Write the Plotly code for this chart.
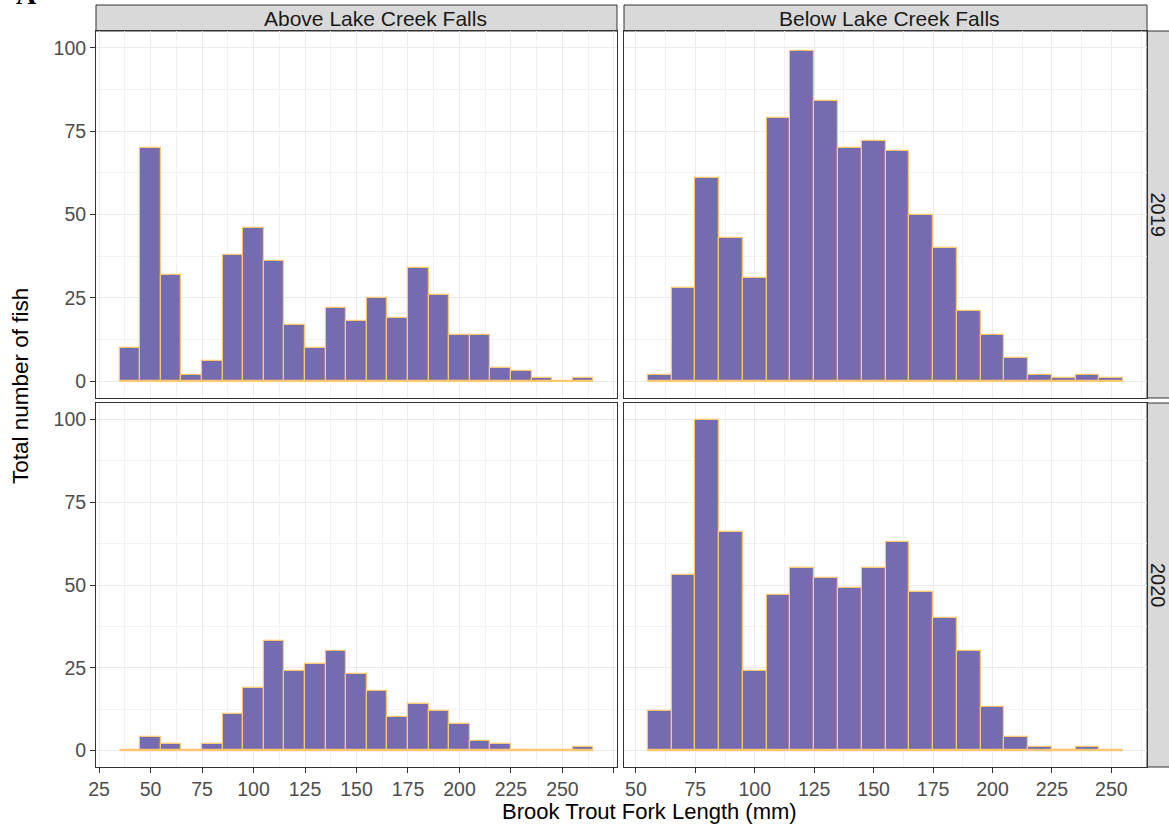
import plotly.graph_objects as go

# ---------------- data ----------------
above_bins = [40, 50, 60, 70, 80, 90, 100, 110, 120, 130, 140, 150, 160, 170,
              180, 190, 200, 210, 220, 230, 240, 250, 260]
above_2019 = [10, 70, 32, 2, 6, 38, 46, 36, 17, 10, 22, 18, 25, 19, 34, 26, 14,
              14, 4, 3, 1, 0, 1]
above_2020 = [0, 4, 2, 0, 2, 11, 19, 33, 24, 26, 30, 23, 18, 10, 14, 12, 8, 3,
              2, 0, 0, 0, 1]

below_bins = [60, 70, 80, 90, 100, 110, 120, 130, 140, 150, 160, 170, 180, 190,
              200, 210, 220, 230, 240, 250]
below_2019 = [2, 28, 61, 43, 31, 79, 99, 84, 70, 72, 69, 50, 40, 21, 14, 7, 2,
              1, 2, 1]
below_2020 = [12, 53, 100, 66, 24, 47, 55, 52, 49, 55, 63, 48, 40, 30, 13, 4, 1,
              0, 1, 0]

BIN_WIDTH = 10
site_labels = ["Above Lake Creek Falls", "Below Lake Creek Falls"]
year_labels = ["2019", "2020"]
y_ticks = [0, 25, 50, 75, 100]
x_ticks_above = [25, 50, 75, 100, 125, 150, 175, 200, 225, 250, 275]
x_ticklabels_above = ["25", "50", "75", "100", "125", "150", "175", "200",
                      "225", "250", ""]
x_ticks_below = [50, 75, 100, 125, 150, 175, 200, 225, 250]

# ---------------- style ----------------
FILL = "#756bb1"
EDGE = "#ffc870"
FONT = "Liberation Sans, Arial, sans-serif"
GRID = "#ebebeb"
MINOR = "#f2f2f2"
BORDER = "#333333"

W, H = 1169, 829
L, R, T, B = 96, 22, 31, 62
pw, ph = W - L - R, H - T - B


def px_x(p):
    return (p - L) / pw


def px_y(p):
    return (H - B - p) / ph


xdom_left = [0, px_x(617)]
xdom_right = [px_x(624), 1]
ydom_top = [px_y(398), 1]
ydom_bot = [0, px_y(403)]

fig = go.Figure()

panels = [
    # (bins, counts, xaxis id, yaxis id)
    (above_bins, above_2019, "x", "y"),
    (below_bins, below_2019, "x2", "y2"),
    (above_bins, above_2020, "x3", "y3"),
    (below_bins, below_2020, "x4", "y4"),
]

for bins, counts, xa, ya in panels:
    fig.add_trace(go.Bar(
        x=bins, y=counts, width=BIN_WIDTH, xaxis=xa, yaxis=ya,
        marker=dict(color=FILL, line=dict(color=EDGE, width=1.2)),
        showlegend=False, hoverinfo="x+y",
    ))
    # outline of zero-height bins along the baseline
    fig.add_trace(go.Scatter(
        x=[bins[0] - BIN_WIDTH / 2, bins[-1] + BIN_WIDTH / 2], y=[0, 0],
        mode="lines", line=dict(color=EDGE, width=1.5),
        xaxis=xa, yaxis=ya, showlegend=False, hoverinfo="skip",
    ))

tickfont = dict(family=FONT, size=19.5, color="#4d4d4d")


def xaxis_cfg(domain, anchor, rng, tickvals, ticktext, show_labels):
    return dict(
        domain=domain, anchor=anchor, range=rng,
        tickmode="array", tickvals=tickvals, ticktext=ticktext,
        showticklabels=show_labels, ticks="outside" if show_labels else "",
        ticklen=5, tickwidth=1, tickcolor=BORDER, tickfont=tickfont,
        showgrid=True, gridcolor=GRID, gridwidth=1.1,
        minor=dict(dtick=12.5, tick0=0, showgrid=True, gridcolor=MINOR,
                   gridwidth=0.8, ticks=""),
        showline=True, linecolor=BORDER, linewidth=1, mirror=True,
        zeroline=False, fixedrange=True,
    )


def yaxis_cfg(domain, anchor, show_labels):
    return dict(
        domain=domain, anchor=anchor, range=[-5, 105],
        tickmode="array", tickvals=y_ticks,
        showticklabels=show_labels, ticks="outside" if show_labels else "",
        ticklen=5, tickwidth=1, tickcolor=BORDER, tickfont=tickfont,
        showgrid=True, gridcolor=GRID, gridwidth=1.1,
        minor=dict(dtick=12.5, tick0=0, showgrid=True, gridcolor=MINOR,
                   gridwidth=0.8, ticks=""),
        showline=True, linecolor=BORDER, linewidth=1, mirror=True,
        zeroline=False, fixedrange=True,
    )


rng_above = [above_bins[0] - BIN_WIDTH / 2 - 11.5, above_bins[-1] + BIN_WIDTH / 2 + 11.5]
rng_below = [below_bins[0] - BIN_WIDTH / 2 - 10, below_bins[-1] + BIN_WIDTH / 2 + 10]

fig.update_layout(
    xaxis=xaxis_cfg(xdom_left, "y", rng_above, x_ticks_above, x_ticklabels_above, False),
    yaxis=yaxis_cfg(ydom_top, "x", True),
    xaxis2=xaxis_cfg(xdom_right, "y2", rng_below, x_ticks_below, [str(v) for v in x_ticks_below], False),
    yaxis2=yaxis_cfg(ydom_top, "x2", False),
    xaxis3=xaxis_cfg(xdom_left, "y3", rng_above, x_ticks_above, x_ticklabels_above, True),
    yaxis3=yaxis_cfg(ydom_bot, "x3", True),
    xaxis4=xaxis_cfg(xdom_right, "y4", rng_below, x_ticks_below, [str(v) for v in x_ticks_below], True),
    yaxis4=yaxis_cfg(ydom_bot, "x4", False),
    bargap=0,
    width=W, height=H,
    margin=dict(l=L, r=R, t=T, b=B, pad=0),
    paper_bgcolor="white", plot_bgcolor="white",
    font=dict(family=FONT, color="#1a1a1a"),
)

shapes = []
annotations = []
strip_top = [1, 1 + 26 / ph]
for dom, label, cx in [(xdom_left, site_labels[0], px_x(375)),
                       (xdom_right, site_labels[1], px_x(889))]:
    shapes.append(dict(type="rect", xref="paper", yref="paper",
                       x0=dom[0], x1=dom[1], y0=strip_top[0], y1=strip_top[1],
                       fillcolor="#d9d9d9", line=dict(color=BORDER, width=1),
                       layer="below"))
    annotations.append(dict(text=label, xref="paper", yref="paper",
                            x=cx, y=(strip_top[0] + strip_top[1]) / 2,
                            showarrow=False, font=dict(size=21, color="#1a1a1a", family=FONT),
                            xanchor="center", yanchor="middle"))

for dom, label in [(ydom_top, year_labels[0]), (ydom_bot, year_labels[1])]:
    shapes.append(dict(type="rect", xref="paper", yref="paper",
                       x0=1, x1=1 + 30 / pw, y0=dom[0], y1=dom[1],
                       fillcolor="#d9d9d9", line=dict(color=BORDER, width=1),
                       layer="below"))
    annotations.append(dict(text=label, xref="paper", yref="paper",
                            x=px_x(1158), y=(dom[0] + dom[1]) / 2,
                            showarrow=False, textangle=90,
                            font=dict(size=20, color="#1a1a1a", family=FONT),
                            xanchor="center", yanchor="middle"))

annotations.append(dict(text="Brook Trout Fork Length (mm)", xref="paper", yref="paper",
                        x=px_x(649), y=px_y(811), showarrow=False,
                        font=dict(size=22, color="black", family=FONT),
                        xanchor="center", yanchor="middle"))
annotations.append(dict(text="Total number of fish", xref="paper", yref="paper",
                        x=px_x(20), y=px_y(386), showarrow=False, textangle=-90,
                        font=dict(size=22.5, color="black", family=FONT),
                        xanchor="center", yanchor="middle"))
annotations.append(dict(text="<b>A</b>", xref="paper", yref="paper",
                        x=px_x(26), y=px_y(12), showarrow=False,
                        font=dict(size=28, color="black", family="Liberation Serif, serif"),
                        xanchor="center", yanchor="bottom"))

fig.update_layout(shapes=shapes, annotations=annotations)

fig.write_html("out.html", config={"displayModeBar": False},
               post_script="document.body.style.margin='0';document.body.style.padding='0';")
